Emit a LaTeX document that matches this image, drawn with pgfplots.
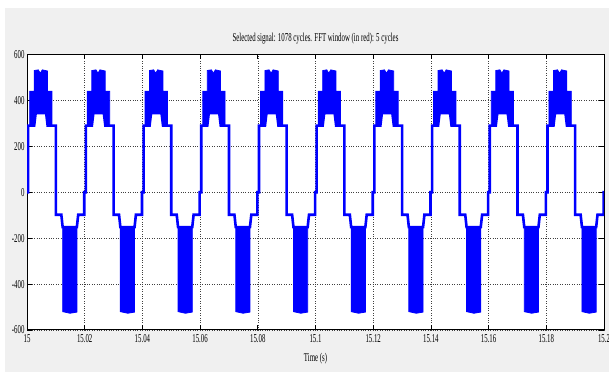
\documentclass[border=0pt]{standalone}
\usepackage{fontspec}
\setmainfont{Liberation Serif}[FakeStretch=0.57]
\usepackage{pgfplots}
\pgfplotsset{compat=1.18}
\definecolor{bggray}{RGB}{240,240,240}
\definecolor{sigblue}{RGB}{0,0,255}
\begin{document}
\begin{tikzpicture}
\useasboundingbox (0pt,0pt) rectangle (609pt,382pt);
\clip (0pt,0pt) rectangle (609pt,382pt);
\fill[white] (0pt,0pt) rectangle (609pt,382pt);
\fill[bggray] (5pt,10pt) rectangle (609pt,374pt);
\begin{axis}[
  at={(27pt,52pt)}, anchor=south west,
  scale only axis, width=577pt, height=275.5pt,
  xmin=0, xmax=200, ymin=-600, ymax=600,
  axis background/.style={fill=white},
  xtick={0,20,40,60,80,100,120,140,160,180,200},
  xticklabels={15,15.02,15.04,15.06,15.08,15.1,15.12,15.14,15.16,15.18,15.2},
  ytick={-600,-400,-200,0,200,400,600},
  yticklabels={-600,-400,-200,0,200,400,600},
  tick align=inside, tick pos=both,
  major tick length=5pt,
  every tick/.style={black, line width=0.8pt},
  grid=major,
  major grid style={dotted, black!75, line width=0.5pt},
  axis line style={black, line width=1pt},
  ticklabel style={font=\fontsize{12}{13}\selectfont},
  xticklabel style={yshift=-1pt},
  yticklabel style={xshift=1pt},
  clip=true,
]
% stepped outline of the signal
\addplot[sigblue, line width=2.6pt, line join=miter] coordinates {
(0,0)
(0.4,0)(0.4,290)(2.48,290)(3.00,345)(6.64,345)(7.16,290)(10.00,290)(10.00,-98)(11.90,-98)(12.36,-152)(17.28,-152)(17.75,-98)(19.85,-98)(19.85,0)
(20.4,0)(20.4,290)(22.48,290)(23.00,345)(26.64,345)(27.16,290)(30.00,290)(30.00,-98)(31.90,-98)(32.36,-152)(37.28,-152)(37.75,-98)(39.85,-98)(39.85,0)
(40.4,0)(40.4,290)(42.48,290)(43.00,345)(46.64,345)(47.16,290)(50.00,290)(50.00,-98)(51.90,-98)(52.36,-152)(57.28,-152)(57.75,-98)(59.85,-98)(59.85,0)
(60.4,0)(60.4,290)(62.48,290)(63.00,345)(66.64,345)(67.16,290)(70.00,290)(70.00,-98)(71.90,-98)(72.36,-152)(77.28,-152)(77.75,-98)(79.85,-98)(79.85,0)
(80.4,0)(80.4,290)(82.48,290)(83.00,345)(86.64,345)(87.16,290)(90.00,290)(90.00,-98)(91.90,-98)(92.36,-152)(97.28,-152)(97.75,-98)(99.85,-98)(99.85,0)
(100.4,0)(100.4,290)(102.48,290)(103.00,345)(106.64,345)(107.16,290)(110.00,290)(110.00,-98)(111.90,-98)(112.36,-152)(117.28,-152)(117.75,-98)(119.85,-98)(119.85,0)
(120.4,0)(120.4,290)(122.48,290)(123.00,345)(126.64,345)(127.16,290)(130.00,290)(130.00,-98)(131.90,-98)(132.36,-152)(137.28,-152)(137.75,-98)(139.85,-98)(139.85,0)
(140.4,0)(140.4,290)(142.48,290)(143.00,345)(146.64,345)(147.16,290)(150.00,290)(150.00,-98)(151.90,-98)(152.36,-152)(157.28,-152)(157.75,-98)(159.85,-98)(159.85,0)
(160.4,0)(160.4,290)(162.48,290)(163.00,345)(166.64,345)(167.16,290)(170.00,290)(170.00,-98)(171.90,-98)(172.36,-152)(177.28,-152)(177.75,-98)(179.85,-98)(179.85,0)
(180.4,0)(180.4,290)(182.48,290)(183.00,345)(186.64,345)(187.16,290)(190.00,290)(190.00,-98)(191.90,-98)(192.36,-152)(197.28,-152)(197.75,-98)(199.85,-98)(199.85,0)
(200,0)
};
% positive PWM bands
\addplot[sigblue, fill=sigblue, line width=0.8pt] coordinates {(0.92,290)(0.92,440)(2.48,440)(2.48,530)(3.90,533)(4.60,518)(5.30,533)(7.10,528)(7.10,440)(8.65,440)(8.65,290)(7.16,290)(6.64,345)(3.00,345)(2.48,290)} --cycle;
\addplot[sigblue, fill=sigblue, line width=0.8pt] coordinates {(20.92,290)(20.92,440)(22.48,440)(22.48,530)(23.90,533)(24.60,518)(25.30,533)(27.10,528)(27.10,440)(28.65,440)(28.65,290)(27.16,290)(26.64,345)(23.00,345)(22.48,290)} --cycle;
\addplot[sigblue, fill=sigblue, line width=0.8pt] coordinates {(40.92,290)(40.92,440)(42.48,440)(42.48,530)(43.90,533)(44.60,518)(45.30,533)(47.10,528)(47.10,440)(48.65,440)(48.65,290)(47.16,290)(46.64,345)(43.00,345)(42.48,290)} --cycle;
\addplot[sigblue, fill=sigblue, line width=0.8pt] coordinates {(60.92,290)(60.92,440)(62.48,440)(62.48,530)(63.90,533)(64.60,518)(65.30,533)(67.10,528)(67.10,440)(68.65,440)(68.65,290)(67.16,290)(66.64,345)(63.00,345)(62.48,290)} --cycle;
\addplot[sigblue, fill=sigblue, line width=0.8pt] coordinates {(80.92,290)(80.92,440)(82.48,440)(82.48,530)(83.90,533)(84.60,518)(85.30,533)(87.10,528)(87.10,440)(88.65,440)(88.65,290)(87.16,290)(86.64,345)(83.00,345)(82.48,290)} --cycle;
\addplot[sigblue, fill=sigblue, line width=0.8pt] coordinates {(100.92,290)(100.92,440)(102.48,440)(102.48,530)(103.90,533)(104.60,518)(105.30,533)(107.10,528)(107.10,440)(108.65,440)(108.65,290)(107.16,290)(106.64,345)(103.00,345)(102.48,290)} --cycle;
\addplot[sigblue, fill=sigblue, line width=0.8pt] coordinates {(120.92,290)(120.92,440)(122.48,440)(122.48,530)(123.90,533)(124.60,518)(125.30,533)(127.10,528)(127.10,440)(128.65,440)(128.65,290)(127.16,290)(126.64,345)(123.00,345)(122.48,290)} --cycle;
\addplot[sigblue, fill=sigblue, line width=0.8pt] coordinates {(140.92,290)(140.92,440)(142.48,440)(142.48,530)(143.90,533)(144.60,518)(145.30,533)(147.10,528)(147.10,440)(148.65,440)(148.65,290)(147.16,290)(146.64,345)(143.00,345)(142.48,290)} --cycle;
\addplot[sigblue, fill=sigblue, line width=0.8pt] coordinates {(160.92,290)(160.92,440)(162.48,440)(162.48,530)(163.90,533)(164.60,518)(165.30,533)(167.10,528)(167.10,440)(168.65,440)(168.65,290)(167.16,290)(166.64,345)(163.00,345)(162.48,290)} --cycle;
\addplot[sigblue, fill=sigblue, line width=0.8pt] coordinates {(180.92,290)(180.92,440)(182.48,440)(182.48,530)(183.90,533)(184.60,518)(185.30,533)(187.10,528)(187.10,440)(188.65,440)(188.65,290)(187.16,290)(186.64,345)(183.00,345)(182.48,290)} --cycle;
% negative PWM bands
\addplot[sigblue, fill=sigblue, line width=0.8pt] coordinates {(12.36,-152)(17.28,-152)(17.28,-522)(14.90,-527)(12.36,-520)} --cycle;
\addplot[sigblue, fill=sigblue, line width=0.8pt] coordinates {(32.36,-152)(37.28,-152)(37.28,-522)(34.90,-527)(32.36,-520)} --cycle;
\addplot[sigblue, fill=sigblue, line width=0.8pt] coordinates {(52.36,-152)(57.28,-152)(57.28,-522)(54.90,-527)(52.36,-520)} --cycle;
\addplot[sigblue, fill=sigblue, line width=0.8pt] coordinates {(72.36,-152)(77.28,-152)(77.28,-522)(74.90,-527)(72.36,-520)} --cycle;
\addplot[sigblue, fill=sigblue, line width=0.8pt] coordinates {(92.36,-152)(97.28,-152)(97.28,-522)(94.90,-527)(92.36,-520)} --cycle;
\addplot[sigblue, fill=sigblue, line width=0.8pt] coordinates {(112.36,-152)(117.28,-152)(117.28,-522)(114.90,-527)(112.36,-520)} --cycle;
\addplot[sigblue, fill=sigblue, line width=0.8pt] coordinates {(132.36,-152)(137.28,-152)(137.28,-522)(134.90,-527)(132.36,-520)} --cycle;
\addplot[sigblue, fill=sigblue, line width=0.8pt] coordinates {(152.36,-152)(157.28,-152)(157.28,-522)(154.90,-527)(152.36,-520)} --cycle;
\addplot[sigblue, fill=sigblue, line width=0.8pt] coordinates {(172.36,-152)(177.28,-152)(177.28,-522)(174.90,-527)(172.36,-520)} --cycle;
\addplot[sigblue, fill=sigblue, line width=0.8pt] coordinates {(192.36,-152)(197.28,-152)(197.28,-522)(194.90,-527)(192.36,-520)} --cycle;
\end{axis}
\node[font=\fontsize{12}{13}\selectfont] at (315.5pt,343pt) {Selected signal: 1078 cycles. FFT window (in red): 5 cycles};
\node[font=\fontsize{12}{13}\selectfont] at (315.5pt,23.5pt) {Time (s)};
\end{tikzpicture}
\end{document}
